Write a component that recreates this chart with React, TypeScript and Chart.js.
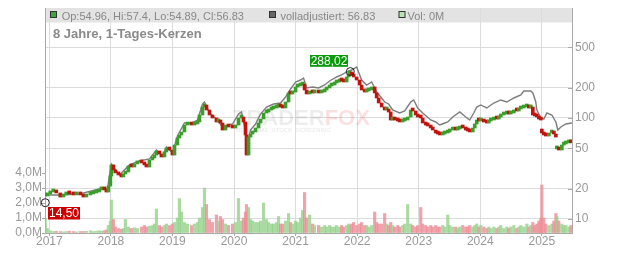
import React, { useEffect, useRef } from 'react';
import { Chart, registerables } from 'chart.js';

Chart.register(...registerables);

// ---- data ----
const DATES = [
  2016.935, 2016.967, 2017.016, 2017.065, 2017.114, 2017.179, 2017.228, 2017.276, 2017.325, 2017.390,
  2017.439, 2017.504, 2017.553, 2017.602, 2017.667, 2017.715, 2017.764, 2017.813, 2017.846, 2017.894,
  2017.927, 2017.959, 2017.992, 2018.008, 2018.041, 2018.073, 2018.122, 2018.171, 2018.203, 2018.236,
  2018.285, 2018.333, 2018.382, 2018.431, 2018.496, 2018.545, 2018.577, 2018.626, 2018.675, 2018.707,
  2018.740, 2018.789, 2018.821, 2018.870, 2018.902, 2018.951, 2019.000, 2019.033, 2019.081, 2019.114,
  2019.146, 2019.195, 2019.244, 2019.309, 2019.358, 2019.407, 2019.439, 2019.488, 2019.520, 2019.553,
  2019.602, 2019.650, 2019.715, 2019.748, 2019.780, 2019.813, 2019.862, 2019.911, 2019.976, 2020.024,
  2020.073, 2020.122, 2020.154, 2020.187, 2020.203, 2020.236, 2020.268, 2020.301, 2020.350, 2020.398,
  2020.431, 2020.480, 2020.528, 2020.561, 2020.610, 2020.642, 2020.691, 2020.724, 2020.756, 2020.789,
  2020.837, 2020.886, 2020.919, 2020.951, 2021.000, 2021.033, 2021.081, 2021.114, 2021.146, 2021.179,
  2021.228, 2021.276, 2021.309, 2021.374, 2021.423, 2021.472, 2021.504, 2021.553, 2021.585, 2021.634,
  2021.667, 2021.715, 2021.748, 2021.780, 2021.829, 2021.862, 2021.878, 2021.911, 2021.943, 2021.992,
  2022.041, 2022.073, 2022.122, 2022.154, 2022.187, 2022.236, 2022.285, 2022.317, 2022.350, 2022.398,
  2022.447, 2022.480, 2022.512, 2022.545, 2022.577, 2022.610, 2022.659, 2022.691, 2022.740, 2022.772,
  2022.821, 2022.870, 2022.902, 2022.951, 2022.984, 2023.033, 2023.065, 2023.114, 2023.146, 2023.195,
  2023.228, 2023.276, 2023.309, 2023.341, 2023.390, 2023.423, 2023.472, 2023.504, 2023.553, 2023.602,
  2023.634, 2023.667, 2023.715, 2023.764, 2023.797, 2023.829, 2023.878, 2023.911, 2023.943, 2023.976,
  2024.008, 2024.057, 2024.106, 2024.138, 2024.171, 2024.220, 2024.268, 2024.301, 2024.333, 2024.382,
  2024.431, 2024.463, 2024.496, 2024.545, 2024.593, 2024.626, 2024.659, 2024.707, 2024.756, 2024.789,
  2024.821, 2024.854, 2024.886, 2024.919, 2024.951, 2024.984, 2025.000, 2025.033, 2025.065, 2025.114,
  2025.163, 2025.195, 2025.228, 2025.244, 2025.276, 2025.325, 2025.358, 2025.390, 2025.439, 2025.472,
];

const CLOSES = [
  16.9, 17.7, 18.5, 18.9, 18.1, 16.5, 17.3, 18.1, 17.7, 17.3,
  17.7, 17.3, 16.5, 17.3, 17.7, 18.1, 18.5, 19.4, 19.8, 19.4,
  18.5, 21.2, 26.7, 34.3, 30.6, 28.6, 27.3, 26.1, 27.9, 29.2,
  33.5, 32.7, 35.1, 36.7, 35.9, 34.3, 32.7, 38.4, 40.2, 43.0,
  47.1, 44.0, 41.1, 46.1, 50.5, 48.2, 43.0, 54.0, 63.4, 67.9,
  72.7, 85.2, 87.2, 85.2, 87.2, 91.3, 107.1, 128.5, 134.5, 120.0,
  107.1, 100.0, 91.3, 95.5, 89.2, 76.0, 85.2, 81.4, 79.6, 85.2,
  100.0, 102.3, 91.3, 67.9, 43.0, 64.8, 69.4, 72.7, 79.6, 89.2,
  97.7, 112.1, 114.7, 120.0, 122.8, 125.6, 128.5, 131.5, 128.5, 125.6,
  144.0, 176.9, 172.9, 180.9, 202.8, 207.5, 212.2, 217.1, 189.4, 172.9,
  180.9, 176.9, 180.9, 176.9, 180.9, 189.4, 198.2, 207.5, 212.2, 222.1,
  227.2, 237.8, 232.5, 227.2, 254.7, 272.7, 279.0, 266.6, 254.7, 237.8,
  212.2, 189.4, 180.9, 185.1, 189.4, 202.8, 176.9, 157.8, 140.8, 128.5,
  120.0, 122.8, 114.7, 95.5, 97.7, 95.5, 93.4, 91.3, 93.4, 95.5,
  102.3, 120.0, 117.3, 107.1, 102.3, 100.0, 89.2, 85.2, 83.3, 79.6,
  76.0, 71.0, 69.4, 67.9, 69.4, 71.0, 72.7, 76.0, 79.6, 76.0,
  77.8, 81.4, 79.6, 76.0, 74.3, 72.7, 79.6, 87.2, 95.5, 93.4,
  95.5, 91.3, 89.2, 93.4, 95.5, 100.0, 97.7, 102.3, 107.1, 109.5,
  112.1, 109.5, 112.1, 120.0, 117.3, 122.8, 125.6, 128.5, 131.5, 125.6,
  128.5, 107.1, 104.7, 102.3, 97.7, 95.5, 71.0, 67.9, 66.3, 71.0,
  72.7, 69.4, 64.8, 51.7, 48.2, 54.0, 55.3, 56.6, 57.9, 56.83,
];

// opening prices after overnight gaps (otherwise a candle opens at the previous close)
const GAP_OPENS = [
  { date: 2025.0, open: 77.8 },
  { date: 2025.244, open: 49.4 },
];

// volume in millions
const VOLUMES = [
  1.0, 0.3, 0.15, 0.1, 0.12, 0.1, 0.08, 0.1, 0.12, 0.1,
  0.08, 0.1, 0.1, 0.12, 0.15, 0.1, 0.12, 0.15, 0.12, 0.15,
  0.2, 0.5, 0.8, 2.2, 0.9, 0.4, 0.3, 0.25, 0.3, 0.9,
  0.4, 0.3, 0.35, 0.3, 0.4, 0.5, 0.4, 0.45, 0.5, 0.6,
  1.6, 0.5, 0.4, 0.5, 0.6, 0.5, 0.6, 0.7, 1.0, 2.3,
  1.4, 0.7, 0.6, 0.5, 0.6, 0.7, 1.0, 1.7, 3.0, 1.9,
  0.9, 0.7, 1.2, 0.8, 1.1, 0.9, 0.6, 0.5, 0.6, 0.7,
  2.3, 0.8, 1.0, 1.4, 1.9, 1.7, 0.9, 0.8, 0.7, 0.7,
  0.8, 2.0, 0.9, 0.7, 0.6, 0.6, 0.7, 1.1, 0.6, 0.6,
  0.8, 1.3, 0.7, 0.6, 0.8, 0.7, 1.0, 1.5, 2.7, 1.0,
  1.2, 0.6, 0.5, 0.5, 0.4, 0.5, 0.4, 0.5, 0.4, 0.4,
  0.5, 0.4, 0.5, 0.4, 0.5, 0.6, 0.5, 0.6, 0.7, 0.5,
  0.6, 0.7, 0.5, 0.5, 0.4, 0.5, 1.4, 0.7, 0.6, 0.6,
  1.3, 0.6, 0.5, 0.7, 0.5, 0.4, 0.5, 0.4, 0.5, 0.6,
  1.9, 0.6, 0.5, 0.4, 0.5, 1.7, 0.6, 0.5, 0.4, 0.5,
  0.4, 0.5, 0.4, 0.4, 0.5, 0.4, 1.2, 0.5, 0.4, 0.4,
  0.3, 0.4, 0.5, 0.4, 0.4, 0.5, 0.4, 0.5, 0.6, 0.4,
  0.5, 0.4, 0.3, 0.4, 0.3, 0.4, 0.3, 0.4, 0.5, 0.3,
  0.4, 0.3, 0.4, 0.5, 0.3, 0.4, 0.5, 0.4, 0.6, 0.4,
  0.5, 0.7, 0.5, 0.6, 0.8, 1.0, 3.2, 1.0, 0.6, 0.5,
  0.6, 0.8, 1.3, 1.1, 0.8, 0.6, 0.5, 0.5, 0.4, 0.5,
];

// fully adjusted close (gray line)
const ADJ_DATES = [
  2016.935, 2017.163, 2017.488, 2017.813, 2017.943, 2018.008, 2018.138, 2018.301, 2018.463, 2018.626,
  2018.740, 2018.837, 2018.902, 2019.000, 2019.081, 2019.195, 2019.309, 2019.407, 2019.488, 2019.520,
  2019.602, 2019.715, 2019.813, 2019.976, 2020.073, 2020.122, 2020.187, 2020.203, 2020.268, 2020.350,
  2020.431, 2020.528, 2020.642, 2020.756, 2020.837, 2020.919, 2021.000, 2021.081, 2021.130, 2021.179,
  2021.276, 2021.374, 2021.472, 2021.553, 2021.667, 2021.748, 2021.829, 2021.911, 2021.992, 2022.073,
  2022.154, 2022.236, 2022.317, 2022.398, 2022.447, 2022.512, 2022.577, 2022.691, 2022.772, 2022.870,
  2022.919, 2022.984, 2023.065, 2023.195, 2023.276, 2023.341, 2023.423, 2023.472, 2023.553, 2023.667,
  2023.764, 2023.829, 2023.894, 2023.943, 2024.008, 2024.106, 2024.220, 2024.333, 2024.431, 2024.545,
  2024.659, 2024.707, 2024.821, 2024.854, 2024.902, 2024.919, 2024.984, 2025.033, 2025.081, 2025.163,
  2025.228, 2025.260, 2025.309, 2025.390, 2025.488,
];
const ADJ_CLOSES = [
  17.3, 17.3, 17.7, 19.8, 19.8, 35.1, 27.3, 34.3, 37.5, 39.3,
  48.2, 42.1, 51.7, 45.0, 66.3, 89.2, 89.2, 95.5, 137.6, 144.0,
  112.1, 97.7, 81.4, 87.2, 109.5, 114.7, 74.3, 50.5, 76.0, 87.2,
  109.5, 128.5, 137.6, 140.8, 161.4, 193.8, 227.2, 237.8, 249.0, 198.2,
  202.8, 198.2, 212.2, 232.5, 254.7, 266.6, 285.4, 298.7, 319.9, 237.8,
  212.2, 227.2, 180.9, 157.8, 144.0, 137.6, 120.0, 112.1, 117.3, 144.0,
  150.8, 125.6, 112.1, 95.5, 91.3, 85.2, 89.2, 91.3, 102.3, 114.7,
  102.3, 95.5, 112.1, 128.5, 134.5, 125.6, 140.8, 150.8, 144.0, 157.8,
  169.0, 185.1, 185.1, 176.9, 144.0, 120.0, 100.0, 97.7, 112.1, 107.1,
  91.3, 76.0, 81.4, 87.2, 89.2,
];

const YEAR_TICKS = [2017, 2018, 2019, 2020, 2021, 2022, 2023, 2024, 2025];
const PRICE_TICKS = [10, 20, 50, 100, 200, 500];
const VOLUME_TICKS = [0, 1, 2, 3, 4];

const LOW_MARK = { date: 2016.935, value: 14.5, text: '14,50' };
const HIGH_MARK = { date: 2021.889, value: 288.02, text: '288,02' };

const SUBTITLE = '8 Jahre, 1-Tages-Kerzen';
const LEGEND_OHLC = 'Op:54.96, Hi:57.4, Lo:54.89, Cl:56.83';
const LEGEND_ADJ = 'volladjustiert: 56.83';
const LEGEND_VOL = 'Vol: 0M';

// axis ranges
const X_MIN = 2016.93;
const X_MAX = 2025.49;
const PRICE_MIN = 7.265;
const PRICE_MAX = 1228;
const VOL_MAX = 15;

const FONT = '"Liberation Sans", Arial, sans-serif';
const UP = '#3a9e2a';
const DOWN = '#c0150f';
const VOL_UP = 'rgba(150,210,140,0.8)';
const VOL_DOWN = 'rgba(238,140,150,0.8)';
const GRID = '#dcdcdc';
const AXIS = '#aaaaaa';
const LABEL = '#999999';

function buildOpens() {
  const opens: number[] = [];
  for (let i = 0; i < CLOSES.length; i++) {
    const gap = GAP_OPENS.find((g) => Math.abs(g.date - DATES[i]) < 1e-6);
    opens.push(gap ? gap.open : i === 0 ? CLOSES[0] : CLOSES[i - 1]);
  }
  return opens;
}

const decorPlugin = {
  id: 'decor',
  beforeDraw(chart: any) {
    const { ctx, chartArea } = chart;
    ctx.save();
    ctx.fillStyle = '#ffffff';
    ctx.fillRect(0, 0, chart.width, chart.height);
    ctx.fillStyle = '#e3e3e3';
    ctx.fillRect(chartArea.left, chartArea.top, chartArea.right - chartArea.left, 14.5);
    ctx.restore();
  },
  beforeDatasetsDraw(chart: any) {
    const { ctx } = chart;
    ctx.save();
    ctx.font = `bold 22px ${FONT}`;
    ctx.textBaseline = 'alphabetic';
    ctx.fillStyle = 'rgba(0,0,0,0.07)';
    ctx.fillText('TRADER', 233, 125);
    const w = ctx.measureText('TRADER').width;
    ctx.fillStyle = 'rgba(230,60,60,0.16)';
    ctx.fillText('FOX', 233 + w, 125);
    ctx.font = `bold 6px ${FONT}`;
    ctx.fillStyle = 'rgba(0,0,0,0.08)';
    ctx.fillText('REAL-TIME  STOCK  SCREENING', 236, 132, 95);
    ctx.restore();
  },
  afterDraw(chart: any) {
    const { ctx, chartArea, scales } = chart;
    ctx.save();
    ctx.strokeStyle = AXIS;
    ctx.lineWidth = 1;
    PRICE_TICKS.forEach((v) => {
      const y = Math.round(scales.price.getPixelForValue(v)) + 0.5;
      ctx.beginPath();
      ctx.moveTo(chartArea.right - 4, y);
      ctx.lineTo(chartArea.right, y);
      ctx.stroke();
    });

    const sq = (x: number, fill: string) => {
      ctx.fillStyle = fill;
      ctx.fillRect(x, 11.5, 6, 6);
      ctx.strokeStyle = '#333';
      ctx.strokeRect(x + 0.5, 11.5, 6, 6);
    };
    ctx.font = `11px ${FONT}`;
    ctx.textBaseline = 'alphabetic';
    sq(50, '#3aa83a');
    ctx.fillStyle = '#888';
    ctx.fillText(LEGEND_OHLC, 61.7, 19.5);
    sq(269, '#666666');
    ctx.fillStyle = '#888';
    ctx.fillText(LEGEND_ADJ, 280.5, 19.5);
    sq(398.5, '#b8e2b0');
    ctx.fillStyle = '#888';
    ctx.fillText(LEGEND_VOL, 407.5, 19.5);

    ctx.font = `bold 13px ${FONT}`;
    ctx.fillStyle = '#8a8a8a';
    ctx.fillText(SUBTITLE, 53, 37.7);

    const mark = (m: any, color: string, dx: number, dy: number, w: number, h: number) => {
      const px = scales.x.getPixelForValue(m.date);
      const py = scales.price.getPixelForValue(m.value);
      ctx.beginPath();
      ctx.arc(px, py, 4, 0, Math.PI * 2);
      ctx.strokeStyle = '#222';
      ctx.lineWidth = 1;
      ctx.stroke();
      const bx = Math.round(px + dx);
      const by = Math.round(py + dy);
      ctx.fillStyle = color;
      ctx.fillRect(bx, by, w, h);
      ctx.fillStyle = '#ffffff';
      ctx.font = `12px ${FONT}`;
      ctx.textAlign = 'center';
      ctx.textBaseline = 'middle';
      ctx.fillText(m.text, bx + w / 2, by + h / 2 + 0.5);
      ctx.textAlign = 'left';
      ctx.textBaseline = 'alphabetic';
    };
    mark(LOW_MARK, '#cc0000', 2.3, 4.7, 32, 12.5);
    mark(HIGH_MARK, '#0a9a0a', -40.7, -16.3, 38, 11.8);
    ctx.restore();
  },
};

export default function App() {
  const ref = useRef<HTMLCanvasElement>(null);

  useEffect(() => {
    const canvas = ref.current;
    if (!canvas) return;
    const opens = buildOpens();
    const candleData = DATES.map((d, i) => ({
      x: d,
      y: [Math.min(opens[i], CLOSES[i]), Math.max(opens[i], CLOSES[i])],
    }));
    const candleColors = CLOSES.map((c, i) => (c >= opens[i] ? UP : DOWN));
    const volData = DATES.map((d, i) => ({ x: d, y: VOLUMES[i] }));
    const volColors = CLOSES.map((c, i) => (c >= opens[i] ? VOL_UP : VOL_DOWN));
    const adjData = ADJ_DATES.map((d, i) => ({ x: d, y: ADJ_CLOSES[i] }));

    const chart = new Chart(canvas, {
      type: 'bar',
      data: {
        datasets: [
          {
            type: 'bar',
            label: 'Kerzen',
            data: candleData as any,
            backgroundColor: candleColors,
            borderWidth: 0,
            barThickness: 3,
            minBarLength: 3,
            grouped: false,
            yAxisID: 'price',
            xAxisID: 'x',
            order: 0,
          } as any,
          {
            type: 'line',
            label: 'volladjustiert',
            data: adjData as any,
            borderColor: '#7d7d7d',
            borderWidth: 1.4,
            pointRadius: 0,
            tension: 0,
            yAxisID: 'price',
            xAxisID: 'x',
            order: 1,
          } as any,
          {
            type: 'bar',
            label: 'Vol',
            data: volData as any,
            backgroundColor: volColors,
            borderWidth: 0,
            barThickness: 2.5,
            grouped: false,
            yAxisID: 'vol',
            xAxisID: 'x',
            order: 2,
          } as any,
        ],
      },
      options: {
        responsive: false,
        animation: false,
        devicePixelRatio: 1,
        layout: { padding: { top: 8, left: 0, right: 0, bottom: 0 } },
        plugins: { legend: { display: false }, tooltip: { enabled: false } },
        events: [],
        scales: {
          x: {
            type: 'linear',
            position: 'bottom',
            offset: false,
            min: X_MIN,
            max: X_MAX,
            afterBuildTicks: (s: any) => {
              s.ticks = YEAR_TICKS.map((v) => ({ value: v }));
            },
            afterFit: (s: any) => {
              s.height = 20;
            },
            ticks: {
              autoSkip: false,
              maxRotation: 0,
              padding: 0,
              color: LABEL,
              font: { family: FONT, size: 12, lineHeight: 1 },
              callback: (v: any) => String(v),
            },
            grid: { color: GRID, tickLength: 3, tickColor: AXIS, drawTicks: true, offset: false },
            border: { color: AXIS },
          },
          price: {
            type: 'logarithmic',
            position: 'right',
            min: PRICE_MIN,
            max: PRICE_MAX,
            afterBuildTicks: (s: any) => {
              s.ticks = PRICE_TICKS.map((v) => ({ value: v }));
            },
            afterFit: (s: any) => {
              s.width = 60;
            },
            ticks: {
              autoSkip: false,
              padding: 3,
              color: LABEL,
              font: { family: FONT, size: 12, lineHeight: 0.8 },
              callback: (v: any) => String(v),
            },
            grid: { color: GRID, drawTicks: false },
            border: { color: AXIS },
          },
          vol: {
            type: 'linear',
            position: 'left',
            min: 0,
            max: VOL_MAX,
            afterBuildTicks: (s: any) => {
              s.ticks = VOLUME_TICKS.map((v) => ({ value: v }));
            },
            afterFit: (s: any) => {
              s.width = 45;
            },
            ticks: {
              autoSkip: false,
              padding: 0,
              color: LABEL,
              font: { family: FONT, size: 12, lineHeight: 0.8 },
              callback: (v: any) => Number(v).toFixed(1).replace('.', ',') + 'M',
            },
            grid: { drawOnChartArea: false, tickLength: 3, tickColor: AXIS },
            border: { color: AXIS },
          },
        },
      } as any,
      plugins: [decorPlugin],
    });
    return () => chart.destroy();
  }, []);

  return (
    <div style={{ position: 'absolute', left: 0, top: 0, width: 632, height: 253 }}>
      <canvas ref={ref} width={632} height={253} style={{ display: 'block', width: 632, height: 253 }} />
    </div>
  );
}
